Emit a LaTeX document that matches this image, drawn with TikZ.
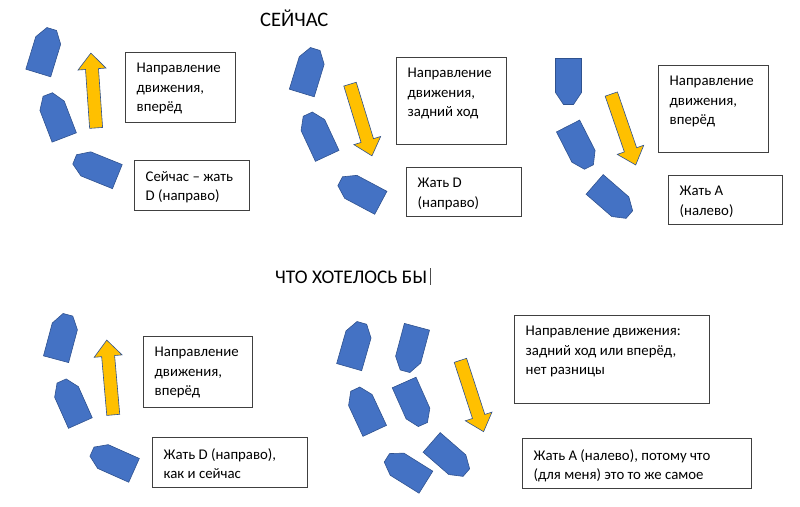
\documentclass[tikz,border=0pt]{standalone}
\usepackage{fontspec}
\setmainfont{Carlito}
\definecolor{tankblue}{HTML}{4472C4}
\definecolor{tankedge}{HTML}{2F528F}
\definecolor{arrowgold}{HTML}{FFC000}

\tikzset{
    tank/.pic={\filldraw[fill=tankblue, draw=tankedge, line width=0.6pt]
        (-13,23) -- (13,23) -- (13,-11) -- (5,-23) -- (-5,-23) -- (-13,-11) -- cycle;},
    bigarrow/.pic={\filldraw[fill=arrowgold, draw=tankedge, line width=0.6pt]
        (-6.5,37.5) -- (6.5,37.5) -- (6.5,-21.5) -- (14,-21.5) -- (0,-37.5) -- (-14,-21.5) -- (-6.5,-21.5) -- cycle;},
    textbox/.style={draw=black!75, line width=0.75pt, anchor=north west, inner sep=0pt},
    boxtext/.style={anchor=north west, align=left, inner xsep=11.5pt, inner ysep=11pt,
        font=\fontsize{14.8}{19.5}\selectfont},
    heading/.style={anchor=base west, inner sep=0pt, font=\fontsize{19.3}{23}\selectfont}
}

\begin{document}
\begin{tikzpicture}[x=1pt, y=-1pt]
    \useasboundingbox (0,0) rectangle (800,506);
    % titles
    \path node[heading, font=\fontsize{20.6}{24}\selectfont] (now) at (260,26.5) {СЕЙЧАС}
        node[heading] (want) at (275,283.5) {ЧТО ХОТЕЛОСЬ БЫ};
    \draw[black!70, line width=0.6pt] (430,268) -- (430,285);

    % now: forward, D
    \pic[rotate=-17] at (45,51) {tank};
    \pic[rotate=21] at (56,116) {tank};
    \pic[rotate=68] at (96,168) {tank};
    \pic[rotate=4] at (93.5,90.5) {bigarrow};
    \path node[textbox, minimum width=110, minimum height=70] (dirA) at (125,52) {}
        node[textbox, minimum width=115, minimum height=50] (keyA) at (134,160) {};
    \path node[boxtext] (dirAtext) at (dirA.north west) {Направление\\движения,\\вперёд}
        node[boxtext] (keyAtext) at (keyA.north west) {Сейчас – жать\\D (направо)};

    % now: reverse, D
    \pic[rotate=-17] at (308.5,71) {tank};
    \pic[rotate=25] at (317.5,135) {tank};
    \pic[rotate=62] at (360.5,192) {tank};
    \pic[rotate=-163] at (361,120) {bigarrow};
    \path node[textbox, minimum width=110, minimum height=87] (dirB) at (396,57) {}
        node[textbox, minimum width=115, minimum height=49] (keyB) at (406,167) {};
    \path node[boxtext] (dirBtext) at (dirB.north west) {Направление\\движения,\\задний ход}
        node[boxtext] (keyBtext) at (keyB.north west) {Жать D\\(направо)};

    % now: forward downwards, A
    \pic[rotate=180] at (568.5,81.5) {tank};
    \pic[rotate=-153] at (578.5,146.5) {tank};
    \pic[rotate=-131] at (612,199.5) {tank};
    \pic[rotate=-161] at (623.5,129.5) {bigarrow};
    \path node[textbox, minimum width=110, minimum height=87] (dirC) at (658,65) {}
        node[textbox, minimum width=114, minimum height=49] (keyC) at (668,175) {};
    \path node[boxtext] (dirCtext) at (dirC.north west) {Направление\\движения,\\вперёд}
        node[boxtext] (keyCtext) at (keyC.north west) {Жать A\\(налево)};

    % wanted: forward, D
    \pic[rotate=-15] at (62,337) {tank};
    \pic[rotate=24] at (71,402) {tank};
    \pic[rotate=66] at (113,461) {tank};
    \pic[rotate=5] at (110,377.5) {bigarrow};
    \path node[textbox, minimum width=109, minimum height=71] (dirD) at (143,336) {}
        node[textbox, minimum width=155, minimum height=50] (keyD) at (152,437) {};
    \path node[boxtext] (dirDtext) at (dirD.north west) {Направление\\движения,\\вперёд}
        node[boxtext] (keyDtext) at (keyD.north west) {Жать D (направо),\\как и сейчас};

    % wanted: either way, A
    \pic[rotate=-16] at (355.5,345) {tank};
    \pic[rotate=165] at (411,349) {tank};
    \pic[rotate=25] at (365,410) {tank};
    \pic[rotate=-156] at (413.5,403.5) {tank};
    \pic[rotate=58] at (406.4,470) {tank};
    \pic[rotate=-131] at (449,457.5) {tank};
    \pic[rotate=-162] at (472,396) {bigarrow};
    \path node[textbox, minimum width=195, minimum height=88] (dirE) at (514,315) {}
        node[textbox, minimum width=229, minimum height=50] (keyE) at (522,438) {};
    \path node[boxtext] (dirEtext) at (dirE.north west) {Направление движения:\\задний ход или вперёд,\\нет разницы}
        node[boxtext] (keyEtext) at (keyE.north west) {Жать A (налево), потому что\\(для меня) это то же самое};
\end{tikzpicture}
\end{document}
